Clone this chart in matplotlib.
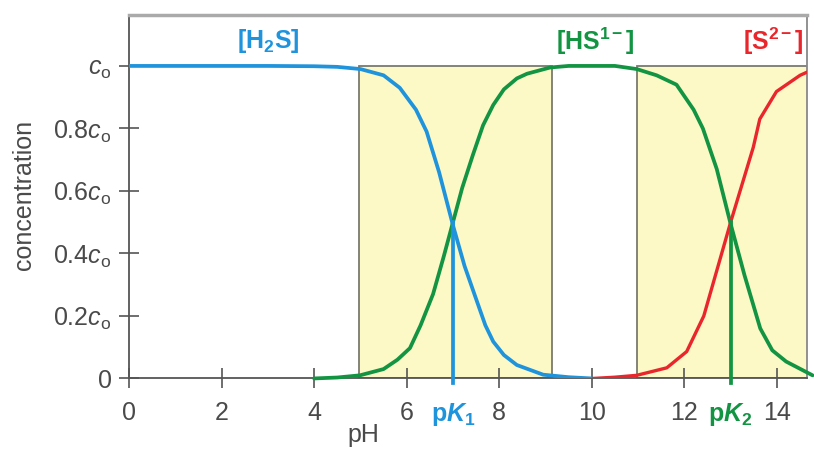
import numpy as np
import matplotlib
matplotlib.use("Agg")
import matplotlib.pyplot as plt
from matplotlib.patches import Rectangle

# values (fraction of c_o vs pH)
ph_h2s = [0, 1, 2, 3, 4, 4.5, 5, 5.5, 5.85, 6.2, 6.43, 6.7, 7.0, 7.25, 7.51, 7.7, 7.87, 8.1, 8.38,
          8.95, 9.5, 10.0]
h2s = [1.0, 1.0, 1.0, 1.0, 0.999, 0.997, 0.99, 0.97, 0.93, 0.86, 0.79, 0.66, 0.49, 0.36, 0.25, 0.17,
       0.118, 0.075, 0.043, 0.012, 0.004, 0.0]

ph_hs = [4.0, 4.5, 4.99, 5.5, 5.8, 6.07, 6.3, 6.57, 6.8, 7.0, 7.2, 7.43, 7.65, 7.87, 8.1, 8.38, 8.6,
         9.1, 9.5, 10.0, 10.5, 10.97, 11.4, 11.83, 12.2, 12.4, 12.7, 12.99, 13.3, 13.64, 13.9, 14.2,
         14.77]
hs = [0.0, 0.003, 0.01, 0.03, 0.06, 0.097, 0.17, 0.27, 0.39, 0.50, 0.61, 0.715, 0.81, 0.875, 0.925,
      0.96, 0.975, 0.995, 1.0, 1.0, 1.0, 0.99, 0.97, 0.94, 0.86, 0.80, 0.67, 0.50, 0.33, 0.16, 0.09,
      0.054, 0.01]

ph_s = [10.03, 10.5, 10.97, 11.62, 12.05, 12.42, 13.0, 13.49, 13.63, 13.99, 14.5, 14.65]
s2 = [0.0, 0.004, 0.01, 0.034, 0.086, 0.20, 0.50, 0.74, 0.83, 0.918, 0.97, 0.98]

pk1, pk2 = 7.0, 13.0
buffer_zones = [(4.98, 9.14), (10.98, 15)]

xticks = [0, 2, 4, 6, 8, 10, 12, 14]
yticks = [0, 0.2, 0.4, 0.6, 0.8, 1.0]
ylabels = ["0", r"0.2$c_\mathrm{o}$", r"0.4$c_\mathrm{o}$", r"0.6$c_\mathrm{o}$",
           r"0.8$c_\mathrm{o}$", r"$c_\mathrm{o}$"]

blue = "#1f94dc"
green = "#139443"
red = "#e8262b"
grey = "#555555"
text_grey = "#4a4a4a"

plt.rcParams["font.family"] = ["Liberation Sans", "DejaVu Sans"]
plt.rcParams["mathtext.fontset"] = "custom"
plt.rcParams["mathtext.rm"] = "Liberation Sans"
plt.rcParams["mathtext.it"] = "Liberation Sans:italic"
plt.rcParams["mathtext.bf"] = "Liberation Sans:bold"
plt.rcParams["mathtext.bfit"] = "Liberation Sans:italic:bold"

fig = plt.figure(figsize=(8.14, 4.5), dpi=100)
ax = fig.add_axes([0.1585, 0.159, 0.8329, 0.8077])
ax.set_xlim(0, 14.65)
ax.set_ylim(0, 1.163)

for x0, x1 in buffer_zones:
    ax.add_patch(Rectangle((x0, 0), x1 - x0, 1.0, facecolor="#fdf9c6",
                           edgecolor="#7a7a70", lw=1.3, zorder=1))

ax.plot(ph_h2s, h2s, color=blue, lw=2.7, zorder=3, solid_capstyle="round")
ax.plot(ph_hs, hs, color=green, lw=2.7, zorder=3, clip_on=False, solid_capstyle="round")
ax.plot(ph_s, s2, color=red, lw=2.4, zorder=3, solid_capstyle="round")

ax.plot([pk1, pk1], [-0.015, 0.5], color=blue, lw=2.7, zorder=4, clip_on=False)
ax.plot([pk2, pk2], [-0.015, 0.5], color=green, lw=2.7, zorder=4, clip_on=False)

# species labels
ax.text(3.0, 1.08, r"[H$_\mathbf{2}$S]", color=blue, fontsize=18, fontweight="bold",
        ha="center", va="center")
ax.text(10.07, 1.08, r"[HS$^\mathbf{1-}$]", color=green, fontsize=18, fontweight="bold",
        ha="center", va="center")
ax.text(13.93, 1.08, r"[S$^\mathbf{2-}$]", color=red, fontsize=18, fontweight="bold",
        ha="center", va="center")

ax.set_xticks(xticks + [pk1, pk2])
ax.set_xticklabels([str(t) for t in xticks] + [r"$\mathbf{p}\mathbfit{K}_\mathbf{1}$",
                                               r"$\mathbf{p}\mathbfit{K}_\mathbf{2}$"])
for t in ax.xaxis.get_major_ticks()[-2:]:
    t.tick1line.set_visible(False)

ax.set_yticks(yticks)
ax.set_yticklabels(ylabels)
ax.tick_params(axis="both", direction="inout", length=15, width=1.2, color=grey,
               labelcolor=text_grey, labelsize=18)
ax.tick_params(axis="x", pad=9)
ax.tick_params(axis="y", pad=5)
for lab, c in zip(ax.get_xticklabels()[-2:], [blue, green]):
    lab.set_color(c)

ax.set_xlabel("pH", fontsize=18, color=text_grey)
ax.xaxis.set_label_coords(0.345, -0.123)
ax.set_ylabel("concentration", fontsize=18, color=text_grey)
ax.yaxis.set_label_coords(-0.137, 0.505)

ax.spines["left"].set_color(grey)
ax.spines["left"].set_linewidth(1.3)
ax.spines["bottom"].set_color(grey)
ax.spines["bottom"].set_linewidth(1.3)
ax.spines["top"].set_color("#aaaaaa")
ax.spines["top"].set_linewidth(2.5)
ax.spines["right"].set_color("#888888")
ax.spines["right"].set_linewidth(1.3)

fig.savefig("out.png", dpi=100)
